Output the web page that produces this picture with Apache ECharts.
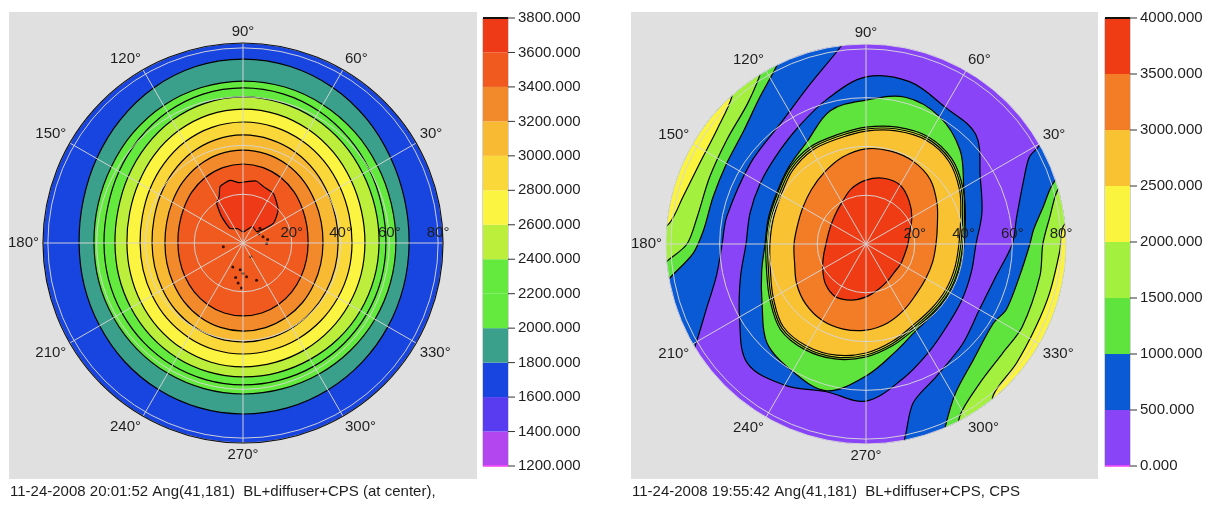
<!DOCTYPE html>
<html>
<head>
<meta charset="utf-8">
<script src="https://cdn.jsdelivr.net/npm/echarts@6/dist/echarts.min.js"></script>
<style>
  html, body { margin: 0; padding: 0; background: #ffffff; }
  #chart { width: 1209px; height: 506px; }
</style>
</head>
<body>
<div id="chart"></div>
<script>
// Azimuths (deg) at which every closed contour radius is sampled
const spokeAngles = [0, 15, 30, 45, 60, 75, 90, 105, 120, 135, 150, 165,
                     180, 195, 210, 225, 240, 255, 270, 285, 300, 315, 330, 345];

// ---------- left map: BL+diffuser+CPS (at center) ----------
const leftTicks = [1200, 1400, 1600, 1800, 2000, 2200, 2400, 2600, 2800, 3000, 3200, 3400, 3600, 3800];
const leftBandColors = ['#b446f0', '#5a3cf0', '#1844e0', '#3aa08c', '#64ea3e', '#64ea3e', '#bcee3c',
                        '#fbf440', '#fbd83a', '#f8ba32', '#f2892a', '#f05a1e', '#ee3a16'];
const leftRimLevel = 1600;
const leftContourLevels = [1800, 2000, 2200, 2400, 2600, 2800, 3000, 3200, 3400];
// zenith radius (deg) of each contour along spokeAngles
const leftContourRadii = [
  [68.1, 68.6, 69.9, 71.8, 73.6, 74.9, 75.4, 74.9, 73.4, 71.3, 69.3, 67.8, 67.2, 67.4, 67.9, 68.7, 69.4, 69.9, 70.1, 70.0, 69.6, 69.1, 68.6, 68.2],
  [62.7, 62.9, 63.6, 64.6, 65.5, 66.2, 66.4, 66.0, 65.1, 63.8, 62.4, 61.5, 61.1, 61.2, 61.3, 61.5, 61.7, 61.8, 61.9, 61.9, 62.1, 62.3, 62.5, 62.6],
  [58.6, 58.9, 59.9, 61.1, 62.4, 63.3, 63.6, 63.2, 62.0, 60.3, 58.7, 57.4, 57.0, 57.1, 57.3, 57.6, 57.9, 58.1, 58.2, 58.2, 58.3, 58.4, 58.5, 58.6],
  [55.8, 56.1, 56.8, 57.9, 58.9, 59.6, 59.9, 59.4, 58.1, 56.2, 54.4, 53.0, 52.5, 52.7, 53.1, 53.7, 54.3, 54.7, 54.9, 55.0, 55.1, 55.4, 55.6, 55.7],
  [50.0, 50.3, 51.2, 52.5, 53.7, 54.6, 54.9, 54.4, 53.1, 51.3, 49.4, 48.1, 47.6, 47.8, 48.4, 49.2, 50.0, 50.6, 50.8, 50.7, 50.6, 50.4, 50.2, 50.1],
  [44.7, 45.0, 45.9, 47.2, 48.4, 49.3, 49.6, 49.1, 47.8, 45.9, 44.1, 42.7, 42.2, 42.4, 43.0, 43.9, 44.7, 45.3, 45.5, 45.4, 45.3, 45.1, 44.9, 44.8],
  [39.0, 39.4, 40.3, 41.7, 43.0, 43.9, 44.3, 43.8, 42.6, 40.8, 39.1, 37.8, 37.3, 37.5, 38.1, 39.0, 39.8, 40.4, 40.6, 40.5, 40.2, 39.8, 39.4, 39.1],
  [32.8, 33.2, 34.1, 35.5, 36.8, 37.7, 38.1, 37.7, 36.6, 35.1, 33.5, 32.4, 32.0, 32.3, 33.0, 34.1, 35.1, 35.8, 36.1, 35.9, 35.3, 34.5, 33.6, 33.0],
  [26.7, 27.1, 28.1, 29.6, 31.0, 32.0, 32.4, 32.0, 31.0, 29.6, 28.1, 27.1, 26.7, 26.9, 27.5, 28.3, 29.1, 29.7, 29.9, 29.7, 29.1, 28.3, 27.5, 26.9]
];
// 3600 patch just above the centre
const leftPeakLevel = 3600;
const leftPeakAngles = [123.5, 117, 112, 101.7, 94, 86.5, 78, 70, 58.6, 50, 43, 33, 39.5, 60, 88.5, 110, 131.5, 129];
const leftPeakRadii = [19.5, 21.5, 25, 26.2, 24.8, 25.2, 26.0, 24.6, 23.8, 21.5, 19.7, 14.8, 7.3, 7.8, 4.6, 6.2, 8, 13.9];
// isolated 3600 specks around the centre: [radius, azimuth]
const leftSpecks = [[11, 264], [13.9, 276], [10.7, 247], [16.2, 290], [16.5, 263], [8.6, 17.5],
                    [9.7, 359], [8.2, 190.6], [9.2, 40.8], [12.5, 270], [14.5, 258], [7.5, 30],
                    [18.5, 268], [10.2, 8], [6.5, 300]];

// ---------- right map: BL+diffuser+CPS, CPS ----------
const rightTicks = [0, 500, 1000, 1500, 2000, 2500, 3000, 3500, 4000];
const rightBandColors = ['#8a44f8', '#0a5ad6', '#5ee43c', '#a4f03e', '#fbf43f', '#f9c233', '#f27d26', '#f03c14'];
const rightRimLevel = 0;
const rightContourLevels = [500, 1000, 1500, 2000, 2500, 3000, 3500];
const rightContourRadii = [
  [45.1, 49.2, 54.1, 63.6, 64.8, 68.9, 68.5, 61.5, 55.4, 51.7, 50.0, 49.2, 49.2, 53.3, 59.9, 68.9, 66.8, 62.7, 64.4, 57.4, 51.3, 47.2, 45.5, 44.7],
  [40.2, 42.2, 46.3, 54.5, 60.3, 62.3, 59.0, 56.6, 48.4, 44.7, 42.2, 41.4, 41.4, 44.3, 49.2, 57.4, 60.3, 62.3, 54.1, 45.9, 41.0, 39.8, 39.8, 39.8],
  [39.7, 41.8, 45.9, 49.6, 50.8, 49.6, 47.9, 46.3, 45.9, 44.2, 41.8, 41.0, 41.0, 42.2, 45.5, 49.6, 50.0, 48.8, 46.3, 43.0, 40.1, 39.3, 39.3, 39.3],
  [38.9, 41.0, 45.1, 48.8, 50.0, 48.8, 47.1, 45.5, 45.1, 43.4, 41.0, 40.2, 40.2, 41.4, 44.7, 48.8, 49.2, 48.0, 45.5, 42.2, 39.3, 38.5, 38.5, 38.5],
  [38.1, 40.2, 44.3, 48.0, 49.2, 48.0, 46.3, 44.7, 44.3, 42.6, 40.2, 39.4, 39.4, 40.6, 43.9, 48.0, 48.4, 47.2, 44.7, 41.4, 38.5, 37.7, 37.7, 37.7],
  [28.7, 30.3, 33.6, 37.3, 39.0, 39.4, 39.0, 36.9, 34.0, 31.6, 29.9, 29.1, 29.5, 30.3, 32.8, 34.9, 36.1, 36.1, 35.3, 33.6, 31.2, 29.1, 28.3, 28.3],
  [17.2, 18.5, 21.7, 25.0, 27.9, 27.9, 26.2, 23.4, 19.7, 17.6, 16.4, 16.0, 16.4, 18.0, 20.5, 23.4, 25.0, 23.8, 21.7, 19.3, 17.6, 16.4, 16.4, 16.4]
];
// contours that cross the rim on the west and east sides (level rises toward the rim)
const rightSideLevels = [500, 1000, 1500, 2000];
const rightWestAngles = [
  [94, 97, 110, 125, 145, 169, 180, 192, 202, 210, 214],
  [113, 116, 126, 137, 150, 163, 175, 183, 190, 193],
  [119, 121, 130, 143, 157, 171, 180, 185, 188],
  [130, 132, 142.6, 154, 165.6, 174, 177]
];
const rightWestRadii = [
  [88, 82, 68.9, 60.7, 57.8, 58.2, 59.0, 62.7, 70.5, 80.3, 88],
  [88, 82.4, 74.2, 68.4, 66.0, 65.6, 66.8, 70.9, 82, 88],
  [88, 83.2, 75.4, 71.3, 69.7, 70.1, 73.4, 82, 88],
  [88, 82, 77, 75.8, 77.5, 81.1, 88]
];
const rightEastAngles = [
  [32, 29.4, 28, 22, 10, 0, -14, -30, -46, -62, -73.5, -79, -82],
  [20, 18, 11.8, 4.8, 0, -12, -25, -32, -47.3, -59, -66.5, -69],
  [18, 15.7, 8.4, 0, -10.4, -28, -38.5, -51, -61.4, -64],
  [8, 5, -2, -15, -26, -38.4, -50, -53]
];
const rightEastRadii = [
  [88, 81.1, 75.8, 69.7, 62.7, 60.0, 54.9, 53.7, 57.0, 61.5, 68.0, 82, 88],
  [88, 80.7, 74.2, 68.9, 67.2, 64.3, 63.5, 61.5, 64.8, 71.3, 81.6, 88],
  [88, 81.6, 76.2, 72.5, 72.5, 72.5, 71.7, 73.8, 80.3, 88],
  [88, 81.1, 79.5, 77.9, 77.5, 78.7, 81.1, 88]
];

const radiusLabels = ['', '20°', '40°', '60°', '80°'];
const leftCaption = '11-24-2008 20:01:52 Ang(41,181)  BL+diffuser+CPS (at center),';
const rightCaption = '11-24-2008 19:55:42 Ang(41,181)  BL+diffuser+CPS, CPS';

// ---------- geometry helpers (data space: [radius, azimuth]) ----------
const R_MAX = 82;      // rim of the plotted disc
const R_FAR = 125;     // beyond the rim; clipped away by the polar area

function closedContour(radii) {
  return spokeAngles.map((a, i) => [radii[i], a]);
}
function fullDisc() {
  return spokeAngles.map(a => [R_FAR, a]);
}
// region between a rim-crossing contour and the rim beyond it
function rimSide(angles, radii) {
  const pts = angles.map((a, i) => [radii[i], a]);
  const a0 = angles[0], a1 = angles[angles.length - 1];
  for (let k = 0; k <= 6; k++) pts.push([R_FAR, a1 + (a0 - a1) * k / 6]);
  return pts;
}
function bandColor(ticks, colors, level) {
  return colors[ticks.indexOf(level)];
}

function contourSeries(polarIndex, shapes) {
  return {
    type: 'custom',
    coordinateSystem: 'polar',
    polarIndex: polarIndex,
    clip: true,
    silent: true,
    z: 1,
    data: shapes.map(s => ({ value: [0, 0], name: String(s.level) })),
    renderItem: function (params, api) {
      const s = shapes[params.dataIndex];
      return {
        type: 'polygon',
        shape: { points: s.pts.map(p => api.coord(p)), smooth: s.smooth },
        style: { fill: s.fill, stroke: s.stroke, lineWidth: 1.2 }
      };
    }
  };
}

// left shapes, painted from the rim inwards
const leftShapes = [{ level: leftRimLevel, pts: fullDisc(), smooth: 0, fill: bandColor(leftTicks, leftBandColors, leftRimLevel), stroke: null }];
leftContourLevels.forEach((lv, i) => {
  leftShapes.push({ level: lv, pts: closedContour(leftContourRadii[i]), smooth: 0.35,
    fill: bandColor(leftTicks, leftBandColors, lv), stroke: '#000' });
});
leftShapes.push({ level: leftPeakLevel, pts: leftPeakAngles.map((a, i) => [leftPeakRadii[i], a]), smooth: 0.2,
  fill: bandColor(leftTicks, leftBandColors, leftPeakLevel), stroke: '#000' });

// right shapes, painted from low to high levels
const rightShapes = [{ level: rightRimLevel, pts: fullDisc(), smooth: 0, fill: bandColor(rightTicks, rightBandColors, rightRimLevel), stroke: null }];
rightTicks.forEach(lv => {
  const fill = bandColor(rightTicks, rightBandColors, lv);
  const si = rightSideLevels.indexOf(lv);
  if (si >= 0) {
    rightShapes.push({ level: lv, pts: rimSide(rightWestAngles[si], rightWestRadii[si]), smooth: 0.3, fill: fill, stroke: '#000' });
    rightShapes.push({ level: lv, pts: rimSide(rightEastAngles[si], rightEastRadii[si]), smooth: 0.3, fill: fill, stroke: '#000' });
  }
  const ci = rightContourLevels.indexOf(lv);
  if (ci >= 0) {
    rightShapes.push({ level: lv, pts: closedContour(rightContourRadii[ci]), smooth: 0.35, fill: fill, stroke: '#000' });
  }
});

// ---------- axes ----------
const FONT = 'Liberation Sans, Arial, sans-serif';
const gridGray = 'rgba(214,214,214,0.95)';
function angleAxis(polarIndex, rimLine) {
  return {
    polarIndex: polarIndex, type: 'value', min: 0, max: 360, interval: 30,
    startAngle: 0, clockwise: false, z: 5,
    axisLine: { show: rimLine, lineStyle: { color: '#111', width: 1.2 } },
    axisTick: { show: false },
    axisLabel: { margin: 4, color: '#1e1e1e', fontSize: 15, fontFamily: FONT,
      formatter: v => (v % 360 === 0 ? '' : v + '°') },
    splitLine: { show: true, lineStyle: { color: gridGray, width: 1 } }
  };
}
function radiusAxis(polarIndex) {
  return {
    polarIndex: polarIndex, type: 'value', min: 0, max: R_MAX, interval: 20, z: 5,
    axisLine: { show: false }, axisTick: { show: false },
    axisLabel: { margin: 3, color: '#1e1e1e', fontSize: 15, fontFamily: FONT,
      formatter: v => radiusLabels[v / 20] || '' },
    splitLine: { show: true, lineStyle: { color: gridGray, width: 1 } }
  };
}

// ---------- colour bars (bands plus their outward tick marks) ----------
const TICK_LEN = 7;
function barSeries(gridIdx, ticks, colors) {
  const items = [];
  for (let i = 0; i < ticks.length - 1; i++) items.push([ticks[i], ticks[i + 1], i]);
  return {
    type: 'custom', xAxisIndex: gridIdx, yAxisIndex: gridIdx, silent: true, clip: false,
    data: items,
    renderItem: function (params, api) {
      const lo = api.value(0), hi = api.value(1), i = api.value(2);
      const p0 = api.coord([0, hi]), p1 = api.coord([1, lo]);
      const children = [{ type: 'rect', shape: { x: p0[0], y: p0[1], width: p1[0] - p0[0], height: p1[1] - p0[1] },
        style: { fill: colors[i] } }];
      children.push({ type: 'line', shape: { x1: p1[0], y1: p0[1], x2: p1[0] + TICK_LEN, y2: p0[1] },
        style: { stroke: '#333', lineWidth: 1 } });
      if (i === ticks.length - 2) children.push({ type: 'line', shape: { x1: p0[0], y1: p0[1], x2: p1[0], y2: p0[1] },
        style: { stroke: '#111', lineWidth: 2 } });
      if (i === 0) {
        children.push({ type: 'line', shape: { x1: p0[0], y1: p1[1], x2: p1[0], y2: p1[1] },
          style: { stroke: '#ff4cff', lineWidth: 1.5 } });
        children.push({ type: 'line', shape: { x1: p1[0], y1: p1[1], x2: p1[0] + TICK_LEN, y2: p1[1] },
          style: { stroke: '#333', lineWidth: 1 } });
      }
      return { type: 'group', children: children };
    }
  };
}
function barYAxis(gridIdx, ticks) {
  return {
    gridIndex: gridIdx, type: 'value', position: 'right',
    min: ticks[0], max: ticks[ticks.length - 1], interval: ticks[1] - ticks[0],
    axisLine: { show: false },
    axisTick: { show: false },
    axisLabel: { margin: 10, color: '#1e1e1e', fontSize: 15, fontFamily: FONT,
      formatter: v => v.toFixed(3) },
    splitLine: { show: false }
  };
}

const captionStyle = { fontSize: 15, fontWeight: 'normal', color: '#1e1e1e', fontFamily: FONT };

const chart = echarts.init(document.getElementById('chart'), null, { renderer: 'canvas' });
chart.setOption({
  animation: false,
  backgroundColor: '#ffffff',
  graphic: [
    { type: 'rect', z: -10, shape: { x: 9, y: 12, width: 468, height: 467 }, style: { fill: '#e0e0e0' } },
    { type: 'rect', z: -10, shape: { x: 631, y: 12, width: 467, height: 467 }, style: { fill: '#e0e0e0' } }
  ],
  title: [
    { text: leftCaption, left: 10, top: 484, padding: 0, textStyle: captionStyle },
    { text: rightCaption, left: 632, top: 484, padding: 0, textStyle: captionStyle }
  ],
  polar: [
    { center: [243, 243], radius: 200 },
    { center: [866, 244], radius: 200 }
  ],
  angleAxis: [angleAxis(0, true), angleAxis(1, false)],
  radiusAxis: [radiusAxis(0), radiusAxis(1)],
  grid: [
    { left: 483, top: 18, width: 25, height: 448, show: true, borderColor: '#a8a8a8', borderWidth: 1, backgroundColor: 'transparent' },
    { left: 1105, top: 18, width: 25, height: 448, show: true, borderColor: '#a8a8a8', borderWidth: 1, backgroundColor: 'transparent' }
  ],
  xAxis: [
    { gridIndex: 0, type: 'value', min: 0, max: 1, show: false },
    { gridIndex: 1, type: 'value', min: 0, max: 1, show: false }
  ],
  yAxis: [barYAxis(0, leftTicks), barYAxis(1, rightTicks)],
  series: [
    contourSeries(0, leftShapes),
    {
      type: 'scatter', coordinateSystem: 'polar', polarIndex: 0, silent: true, z: 2,
      symbol: 'circle', symbolSize: 3, itemStyle: { color: '#000' },
      data: leftSpecks
    },
    contourSeries(1, rightShapes),
    barSeries(0, leftTicks, leftBandColors),
    barSeries(1, rightTicks, rightBandColors)
  ]
});
</script>
</body>
</html>
